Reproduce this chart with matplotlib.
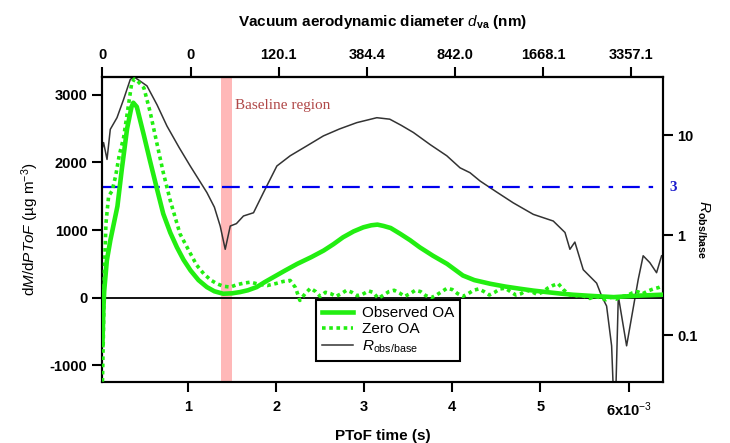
import matplotlib
matplotlib.use("Agg")
import matplotlib.pyplot as plt
import numpy as np

plt.rcParams['font.family'] = ['Liberation Sans', 'DejaVu Sans']
plt.rcParams['mathtext.fontset'] = 'custom'
plt.rcParams['mathtext.rm'] = 'Liberation Sans'
plt.rcParams['mathtext.it'] = 'Liberation Sans:italic'
plt.rcParams['mathtext.bf'] = 'Liberation Sans:bold'

# ---------------- data (PToF time in ms) ----------------
obs_t = [0.03, 0.04, 0.05, 0.08, 0.12, 0.20, 0.25, 0.31, 0.36, 0.38, 0.42, 0.50, 0.57, 0.65,
         0.72, 0.80, 0.875, 0.95, 1.03, 1.12, 1.215, 1.30, 1.40, 1.50, 1.59, 1.68, 1.78, 1.87,
         1.97, 2.10, 2.24, 2.40, 2.54, 2.65, 2.76, 2.88, 2.99, 3.08, 3.15, 3.22, 3.30, 3.41,
         3.52, 3.63, 3.78, 3.94, 4.12, 4.25, 4.43, 4.60, 4.77, 4.92, 5.07, 5.22, 5.37, 5.60,
         5.83, 6.10, 6.37]
obs_oa = [-700, -200, 100, 550, 850, 1350, 1900, 2500, 2820, 2880, 2820, 2400, 2020, 1600,
          1240, 960, 745, 560, 402, 260, 157, 95, 59, 65, 83, 110, 157, 230,
          304, 400, 500, 600, 697, 790, 893, 980, 1040, 1070, 1080, 1060, 1030, 943,
          850, 745, 620, 500, 328, 260, 206, 165, 132, 105, 83, 62, 44, 25,
          9, 30, 44]

zero_t = [0.03, 0.04, 0.05, 0.07, 0.10, 0.14, 0.18, 0.22, 0.27, 0.32, 0.36, 0.39, 0.43, 0.50,
          0.57, 0.65, 0.72, 0.80, 0.91, 1.03, 1.10, 1.18, 1.26, 1.33, 1.40, 1.48, 1.55, 1.63,
          1.71, 1.80, 1.90, 2.00, 2.08, 2.16, 2.22, 2.27, 2.33, 2.39, 2.45, 2.50, 2.56, 2.62,
          2.68, 2.74, 2.80, 2.86, 2.92, 2.98, 3.05, 3.10, 3.16, 3.22, 3.28, 3.34, 3.40, 3.46,
          3.52, 3.58, 3.64, 3.70, 3.76, 3.82, 3.88, 3.94, 4.00, 4.06, 4.12, 4.18, 4.24, 4.30,
          4.36, 4.42, 4.48, 4.54, 4.60, 4.66, 4.72, 4.78, 4.84, 4.90, 4.96, 5.02, 5.08, 5.14,
          5.20, 5.26, 5.32, 5.38, 5.44, 5.50, 5.56, 5.62, 5.68, 5.74, 5.80, 5.86, 5.92, 5.98,
          6.04, 6.10, 6.16, 6.22, 6.28, 6.34, 6.39]
zero_oa = [-1240, -600, 300, 1100, 1500, 1580, 1800, 2100, 2365, 2800, 3150, 3230, 3200, 3100,
           2750, 2268, 1850, 1433, 943, 648, 480, 353, 260, 206, 170, 157, 190, 215,
           230, 200, 180, 210, 240, 255, 150, -40, 60, 140, 90, 20, 80, 60,
           20, 60, 110, 80, 30, 50, 100, 80, -10, 40, 90, 110, 70, 20,
           60, 110, 90, 30, 0, 40, 90, 140, 120, 60, 20, 60, 110, 130,
           90, 40, 80, 130, 140, 90, 40, 60, 110, 90, 50, 80, 140, 180,
           210, 120, 50, 20, 40, 20, -10, 20, 0, -30, 10, -20, 20, 30,
           70, 90, 60, 100, 130, 150, 180]

r_t = [0.03, 0.043, 0.082, 0.119, 0.195, 0.27, 0.346, 0.39, 0.45, 0.535, 0.65, 0.762, 0.90,
       1.026, 1.215, 1.30, 1.366, 1.423, 1.48, 1.55, 1.63, 1.744, 1.857, 2.009, 2.16, 2.35,
       2.537, 2.72, 2.916, 3.143, 3.29, 3.42, 3.558, 3.75, 3.937, 4.087, 4.20, 4.314, 4.50,
       4.69, 4.918, 5.145, 5.278, 5.334, 5.39, 5.485, 5.637, 5.694, 5.75, 5.807, 5.825,
       5.856, 5.883, 5.977, 6.109, 6.165, 6.24, 6.317, 6.374]
r_obs_base = [7.5, 8.4, 5.7, 11.4, 14.9, 22.7, 36, 38, 35, 31, 20, 12.3, 7.5,
              4.9, 2.66, 1.9, 1.23, 0.72, 1.23, 1.3, 1.55, 1.67, 2.66, 4.9, 6.2, 7.8,
              9.8, 11.5, 13.3, 14.9, 14.4, 12.5, 10.6, 8.0, 6.2, 4.7, 4.2, 3.47, 2.7,
              2.1, 1.61, 1.38, 1.06, 0.72, 0.85, 0.45, 0.33, 0.245, 0.195, 0.078, 0.03,
              0.03, 0.245, 0.078, 0.36, 0.62, 0.53, 0.42, 0.62]

r_threshold = 3
baseline_region = (1.37, 1.50)

bottom_ticks = [1, 2, 3, 4, 5, 6]
bottom_labels = ['1', '2', '3', '4', '5', '6x10$^{-3}$']
top_ticks = [0.03, 1.03, 2.03, 3.03, 4.03, 5.03, 6.03]
top_labels = ['0', '0', '120.1', '384.4', '842.0', '1668.1', '3357.1']
left_ticks = [-1000, 0, 1000, 2000, 3000]
right_ticks = [0.1, 1, 10]
right_labels = ['0.1', '1', '10']

# ---------------- figure ----------------
fig = plt.figure(figsize=(7.30, 4.43), dpi=100)
ax = fig.add_axes([102/730, 1-382/443, (663-102)/730, (382-76.7)/443])

green = '#22ee11'
ax.axhline(0, color='black', lw=1.3, zorder=1)
l1, = ax.plot(obs_t, obs_oa, color=green, lw=3.3, zorder=3, label='Observed OA')
l2, = ax.plot(zero_t, zero_oa, color=green, lw=2.6, ls=(0, (1, 1)), zorder=3, label='Zero OA')

ax.set_xlim(0.025, 6.39)
ax.set_ylim(-1245, 3265)
ax.set_xticks(bottom_ticks)
ax.set_xticklabels(bottom_labels)
ax.set_yticks(left_ticks)
ax.set_yticklabels([str(v) for v in left_ticks])

ax2 = ax.twinx()
ax2.set_yscale('log')
ax2.set_ylim(0.0339, 38.3)
ax2.axvspan(baseline_region[0], baseline_region[1], color='#ffb8b8', zorder=0, lw=0)
l3, = ax2.plot(r_t, r_obs_base, color='#333333', lw=1.1, zorder=2, label=r'$\it{R}_{\rm obs/base}$')
ax2.axhline(r_threshold, color='#0000ee', lw=1.6, ls=(0, (8, 4, 2, 4)), zorder=2)
ax2.set_yticks(right_ticks)
ax2.set_yticklabels(right_labels)
ax2.yaxis.set_minor_locator(matplotlib.ticker.NullLocator())
ax2.text(1.012, r_threshold, '3', transform=ax2.get_yaxis_transform(), color='#1a1acc',
         fontsize=11, fontweight='bold', family='Liberation Serif', va='center', ha='left')

ax.set_zorder(ax2.get_zorder() + 1)
ax.patch.set_visible(False)

secx = ax.secondary_xaxis('top')
secx.set_xticks(top_ticks)
secx.set_xticklabels(top_labels)

for a in (ax, ax2):
    for s in a.spines.values():
        s.set_linewidth(1.5)
for a in (ax, ax2, secx):
    a.tick_params(direction='out', length=7, width=1.5, labelsize=10.5)
ax.tick_params(axis='x', pad=6)
for lab in ax.get_xticklabels() + ax.get_yticklabels() + ax2.get_yticklabels() + secx.get_xticklabels():
    lab.set_fontweight('bold')
secx.spines['top'].set_linewidth(1.5)

ax.set_xlabel('PToF time (s)', fontsize=11, fontweight='bold')
ax.xaxis.set_label_coords(0.5, -0.153)
ax.set_ylabel(r'd$\it{M}$/d$\it{PToF}$ (µg m$^{-3}$)', fontsize=11)
ax.yaxis.set_label_coords(-0.108, 0.5)
ax2.set_ylabel(r'$\mathbf{\it{R}}_{\mathbf{obs/base}}$', fontsize=11, rotation=-90, labelpad=10)
secx.set_xlabel(r'Vacuum aerodynamic diameter $\it{d}_{\mathbf{va}}$ (nm)', fontsize=11,
                fontweight='bold', labelpad=16)

ax.text(1.53, 2835, 'Baseline region', family='Liberation Serif', fontsize=11,
        color='#b04848', ha='left', va='center', zorder=4)

leg = ax.legend(handles=[l1, l2, l3], loc='upper left',
                bbox_to_anchor=(316/730, 1-300/443), bbox_transform=fig.transFigure,
                fancybox=False, framealpha=1, edgecolor='black', fontsize=11,
                handlelength=2.0, borderpad=0.4, labelspacing=0.15, handletextpad=0.6,
                borderaxespad=0)
leg.get_frame().set_linewidth(1.5)

fig.savefig('out.png', dpi=100)
